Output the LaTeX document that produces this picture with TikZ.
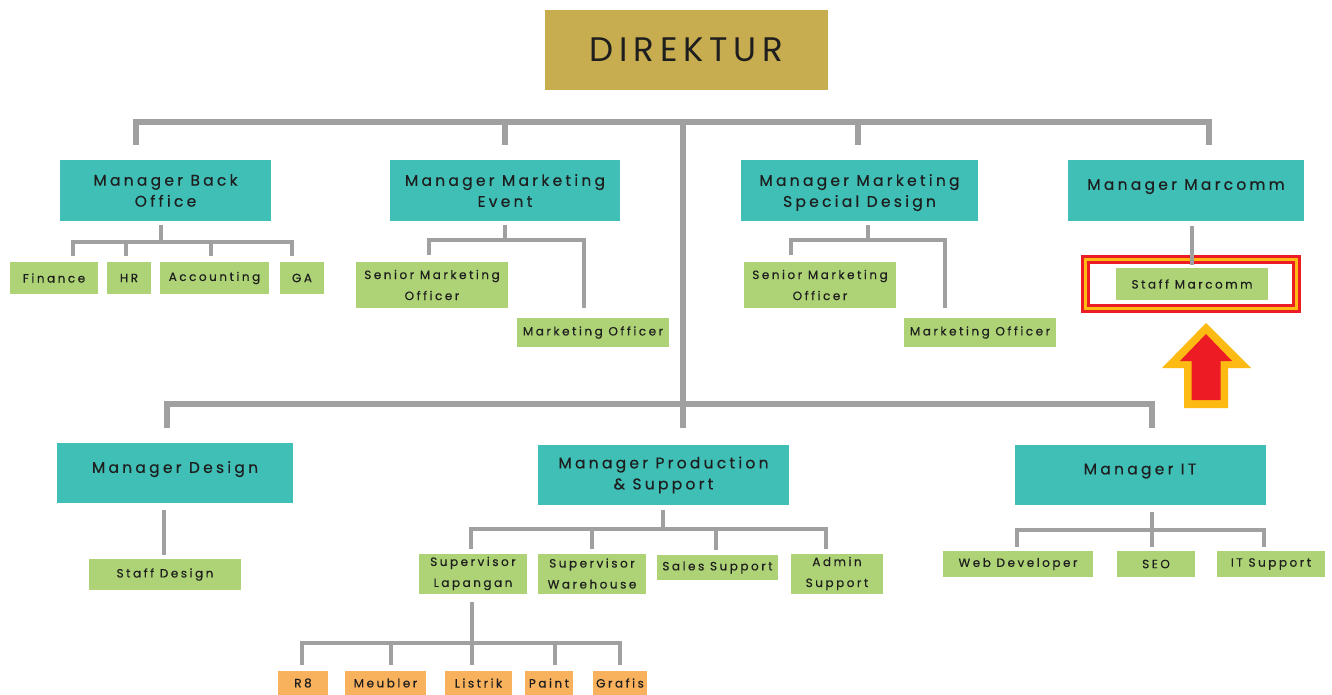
\documentclass[tikz,border=0pt]{standalone}
\usepackage{fontspec}
\setmainfont{Poppins}
\newfontfamily\orgfont[LetterSpace=21,FakeBold=0.4]{Poppins}
\newfontfamily\bossfont[LetterSpace=17]{Poppins}
\usetikzlibrary{positioning}
\definecolor{dirgold}{HTML}{C7AD4F}
\definecolor{mgrteal}{HTML}{3FBFB6}
\definecolor{staffgreen}{HTML}{AED376}
\definecolor{crewamber}{HTML}{F8B15C}
\definecolor{linegray}{HTML}{A0A0A0}
\definecolor{inkgray}{HTML}{1E1E1E}
\definecolor{hired}{HTML}{ED1C24}
\definecolor{hiyellow}{HTML}{FDBA12}

\begin{document}
\begin{tikzpicture}[x=1pt,y=-1pt,
  every node/.style={inner sep=0pt, text=inkgray},
  boss/.style={fill=dirgold, minimum width=283pt, minimum height=80pt,
    font=\bossfont\fontsize{34}{40}\selectfont},
  mgr/.style={fill=mgrteal, align=center, minimum height=61pt,
    font=\orgfont\fontsize{15.5}{21}\selectfont},
  mgrone/.style={mgr, text depth=12pt},
  staff/.style={fill=staffgreen, align=center,
    font=\orgfont\fontsize{12}{21}\selectfont},
  crew/.style={fill=crewamber, minimum height=24pt,
    font=\orgfont\fontsize{12}{14}\selectfont},
  trunk/.style={draw=linegray, line width=5.5pt},
  link/.style={draw=linegray, line width=4.5pt}]
\useasboundingbox (0,0) rectangle (1332,695);

% top
\node[boss] (dir) at (686.5,50) {DIREKTUR};

% first row of managers
\node[mgr, minimum width=211pt] (bo) at (165.5,190.5) {Manager Back\\Office};
\node[mgr, minimum width=230pt, text depth=-3pt] (me) at (505,190.5) {Manager Marketing\\Event};
\node[mgr, minimum width=237pt, text depth=-3pt] (msd) at (859.5,190.5) {Manager Marketing\\Special Design};
\node[mgrone, minimum width=236pt] (mm) at (1186,190.5) {Manager Marcomm};

% back office staff
\node[staff, minimum width=88pt, minimum height=32pt] (fin) at (54,278) {Finance};
\node[staff, minimum width=44pt, minimum height=32pt] (hr) at (129,278) {HR};
\node[staff, minimum width=109pt, minimum height=32pt] (acc) at (214.5,278) {Accounting};
\node[staff, minimum width=44pt, minimum height=32pt] (ga) at (302,278) {GA};

% marketing staff
\node[staff, minimum width=152pt, minimum height=46pt] (smoA) at (432,285) {Senior Marketing\\Officer};
\node[staff, minimum width=152pt, minimum height=29pt] (moA) at (593,332.5) {Marketing Officer};
\node[staff, minimum width=152pt, minimum height=46pt] (smoB) at (820,285) {Senior Marketing\\Officer};
\node[staff, minimum width=152pt, minimum height=29pt] (moB) at (980,332.5) {Marketing Officer};
\node[staff, minimum width=152pt, minimum height=32pt] (smc) at (1192,284) {Staff Marcomm};

% second row of managers
\node[mgrone, minimum width=236pt, minimum height=60pt] (md) at (175,473) {Manager Design};
\node[mgr, minimum width=251pt, minimum height=60pt] (mps) at (663.5,475) {Manager Production\\\& Support};
\node[mgrone, minimum width=251pt, minimum height=60pt] (mit) at (1140,475) {Manager IT};

\node[staff, minimum width=152pt, minimum height=31pt] (sd) at (165,574.5) {Staff Design};

% production staff
\node[staff, minimum width=108pt, minimum height=40pt] (sl) at (473,573.5) {Supervisor\\Lapangan};
\node[staff, minimum width=108pt, minimum height=40pt] (sw) at (592,573.5) {Supervisor\\Warehouse};
\node[staff, minimum width=121pt, minimum height=25pt] (ss) at (717.5,567.5) {Sales Support};
\node[staff, minimum width=92pt, minimum height=40pt] (as) at (837,573.5) {Admin\\Support};

\node[crew, minimum width=50pt] (r8) at (303,683) {R8};
\node[crew, minimum width=81pt] (meu) at (385.5,683) {Meubler};
\node[crew, minimum width=67pt] (lis) at (478.5,683) {Listrik};
\node[crew, minimum width=48pt] (pai) at (549,683) {Paint};
\node[crew, minimum width=54pt] (gra) at (620,683) {Grafis};

% IT staff
\node[staff, minimum width=150pt, minimum height=26pt] (wd) at (1018,564) {Web Developer};
\node[staff, minimum width=78pt, minimum height=26pt] (seo) at (1156,564) {SEO};
\node[staff, minimum width=108pt, minimum height=26pt] (its) at (1271,564) {IT Support};

% main branches
\coordinate (hub) at (683,122);
\coordinate (hubB) at (683,404);
\draw[trunk] ([xshift=-29.5pt,yshift=15pt]bo.north) |- (hub) -| ([xshift=23pt,yshift=15pt]mm.north);
\draw[trunk] ([yshift=15pt]me.north) -- ++(0,-23);
\draw[trunk] ([xshift=-1.5pt,yshift=15pt]msd.north) -- ++(0,-23);
\draw[trunk] (hub) -- ([xshift=19.5pt,yshift=17pt]mps.north);
\draw[trunk] ([xshift=-8pt,yshift=15pt]md.north) |- (hubB) -| ([xshift=12pt,yshift=17pt]mit.north);

% back office
\draw[link] ([xshift=-4.5pt,yshift=-4pt]bo.south) -- ++(0,17) coordinate (boJ);
\draw[link] ([xshift=19pt,yshift=6pt]fin.north) |- (boJ) -| ([xshift=-10pt,yshift=6pt]ga.north);
\draw[link] ([xshift=-3pt,yshift=6pt]hr.north) -- ++(0,-14);
\draw[link] ([xshift=-3.5pt,yshift=6pt]acc.north) -- ++(0,-14);

% marketing event / special design
\draw[link] ([yshift=-4pt]me.south) -- ++(0,15) coordinate (meJ);
\draw[link] ([xshift=-3pt,yshift=7pt]smoA.north) |- (meJ) -| ([xshift=-9pt,yshift=10pt]moA.north);
\draw[link] ([xshift=8.5pt,yshift=-4pt]msd.south) -- ++(0,15) coordinate (msdJ);
\draw[link] ([xshift=-29pt,yshift=7pt]smoB.north) |- (msdJ) -| ([xshift=-35pt,yshift=10pt]moB.north);

% highlight round staff marcomm
\draw[hired, line width=9pt] ([xshift=-30.5pt,yshift=8.5pt]smc.north west) rectangle ([xshift=28.5pt,yshift=-8.5pt]smc.south east);
\draw[hiyellow, line width=2.5pt] ([xshift=-30.5pt,yshift=8.5pt]smc.north west) rectangle ([xshift=28.5pt,yshift=-8.5pt]smc.south east);
\draw[link] ([xshift=6pt,yshift=-5pt]mm.south) -- ([yshift=3pt]smc.north);

% arrow
\coordinate (tip) at (1206,323);
\fill[hiyellow] (tip) -- ++(45,45) -- ++(-23,0) -- ++(0,40) -- ++(-44,0) -- ++(0,-40) -- ++(-22,0) -- cycle;
\fill[hired] ([yshift=-11pt]tip) -- ++(26,27) -- ++(-11.5,0) -- ++(0,39) -- ++(-29,0) -- ++(0,-39) -- ++(-11.5,0) -- cycle;

% design
\draw[link] ([xshift=-11pt,yshift=-7pt]md.south) -- ([xshift=-1pt,yshift=4pt]sd.north);

% production & support
\draw[link] ([xshift=-0.5pt,yshift=-5pt]mps.south) -- ++(0,19) coordinate (mpsJ);
\draw[link] ([xshift=-2pt,yshift=4pt]sl.north) |- (mpsJ) -| ([xshift=-11pt,yshift=4pt]as.north);
\draw[link] ([yshift=4pt]sw.north) -- ++(0,-20.5);
\draw[link] ([xshift=-1.5pt,yshift=5pt]ss.north) -- ++(0,-21);

% supervisor lapangan
\draw[link] ([xshift=-1pt,yshift=-8.5pt]sl.south) -- ++(0,41) coordinate (slJ) -- ([xshift=-6.5pt,yshift=6pt]lis.north);
\draw[link] ([xshift=-1pt,yshift=6pt]r8.north) |- (slJ) -| ([yshift=6pt]gra.north);
\draw[link] ([xshift=5.5pt,yshift=6pt]meu.north) -- ++(0,-22);
\draw[link] ([xshift=6pt,yshift=6pt]pai.north) -- ++(0,-22);

% IT
\draw[link] ([xshift=12pt,yshift=-7pt]mit.south) -- ++(0,18) coordinate (mitJ) -- ([xshift=-4pt,yshift=4pt]seo.north);
\draw[link] ([xshift=-1pt,yshift=4pt]wd.north) |- (mitJ) -| ([xshift=-7pt,yshift=4pt]its.north);
\end{tikzpicture}
\end{document}
